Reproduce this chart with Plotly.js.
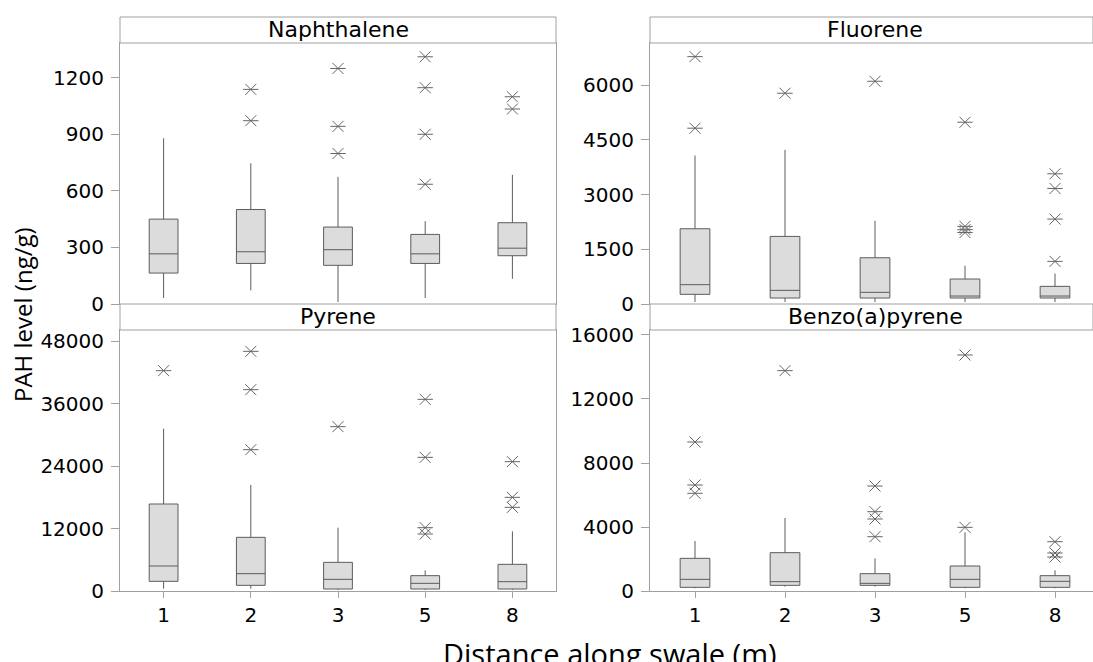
<!DOCTYPE html>
<html>
<head>
<meta charset="utf-8">
<script src="https://cdn.plot.ly/plotly-3.0.1.min.js"></script>
<style>html,body{margin:0;padding:0;background:#fff;}#chart{width:1093px;height:662px;}</style>
</head>
<body>
<div id="chart"></div>
<script>
// ---------- data ----------
const categories = ['1', '2', '3', '5', '8'];
const panelTitles = ['Naphthalene', 'Fluorene', 'Pyrene', 'Benzo(a)pyrene'];
const xAxisTitle = 'Distance along swale (m)';
const yAxisTitle = 'PAH level (ng/g)';

// Naphthalene
const naphLow    = [32, 72, 11, 32, 134];
const naphQ1     = [164, 215, 205, 215, 256];
const naphMedian = [266, 277, 288, 266, 296];
const naphQ3     = [450, 501, 408, 369, 431];
const naphHigh   = [879, 746, 674, 439, 685];
const naphOutliers = [[], [1138, 972], [1249, 942, 798], [1311, 1147, 900, 635], [1099, 1034]];

// Fluorene
const fluoLow    = [55, 55, 55, 55, 55];
const fluoQ1     = [265, 164, 164, 164, 164];
const fluoMedian = [530, 374, 320, 219, 219];
const fluoQ3     = [2064, 1854, 1269, 685, 484];
const fluoHigh   = [4073, 4228, 2283, 1050, 831];
const fluoOutliers = [[6785, 4822], [5781], [6109], [4986, 2130, 2040, 1960], [3571, 3169, 2329, 1169]];

// Pyrene
const pyrLow    = [448, 448, 192, 192, 192];
const pyrQ1     = [1856, 1088, 384, 384, 384];
const pyrMedian = [4800, 3328, 2240, 1472, 1792];
const pyrQ3     = [16704, 10304, 5504, 2944, 5120];
const pyrHigh   = [31168, 20352, 12160, 3968, 11456];
const pyrOutliers = [[42304], [46016, 38656, 27136], [31552], [36800, 25664, 12160, 10944], [24832, 17984, 16064]];

// Benzo(a)pyrene
const bapLow    = [167, 271, 271, 167, 167];
const bapQ1     = [229, 354, 354, 229, 229];
const bapMedian = [729, 583, 479, 729, 604];
const bapQ3     = [2042, 2396, 1083, 1563, 958];
const bapHigh   = [3125, 4563, 2042, 3667, 1292];
const bapOutliers = [[9313, 6625, 6106], [13771], [6560, 4956, 4500, 3394], [14750, 3979], [3081, 2375, 2125]];

// ---------- styling ----------
const W = 1093, H = 662;
const frameColor = '#a0a0a0';
const boxLine = '#5c5c5c';
const boxFill = '#dcdcdc';
const outColor = '#666666';
const tickFont = {family: 'DejaVu Sans, sans-serif', size: 20, color: '#000000'};

const px = v => v / W;
const py = v => (H - v) / H;

const panels = [
  {low: naphLow, q1: naphQ1, med: naphMedian, q3: naphQ3, high: naphHigh, out: naphOutliers,
   xd: [px(120), px(556)], yd: [py(304), py(43)], yr: [0, 1384], dt: 300, xr: [-0.5, 4.5], bottom: false},
  {low: fluoLow, q1: fluoQ1, med: fluoMedian, q3: fluoQ3, high: fluoHigh, out: fluoOutliers,
   xd: [px(650), 1], yd: [py(304), py(43)], yr: [0, 7159], dt: 1500, xr: [-0.5, -0.5 + 443 / 90], bottom: false},
  {low: pyrLow, q1: pyrQ1, med: pyrMedian, q3: pyrQ3, high: pyrHigh, out: pyrOutliers,
   xd: [px(120), px(556)], yd: [py(591), py(330)], yr: [0, 50112], dt: 12000, xr: [-0.5, 4.5], bottom: true},
  {low: bapLow, q1: bapQ1, med: bapMedian, q3: bapQ3, high: bapHigh, out: bapOutliers,
   xd: [px(650), 1], yd: [py(591), py(330)], yr: [0, 16312], dt: 4000, xr: [-0.5, -0.5 + 443 / 90], bottom: true}
];

const traces = [];
const layout = {
  width: W, height: H,
  margin: {l: 0, r: 0, t: 0, b: 0},
  paper_bgcolor: '#ffffff', plot_bgcolor: '#ffffff',
  showlegend: false,
  shapes: [], annotations: []
};

panels.forEach((p, i) => {
  const n = i + 1;
  const xa = n === 1 ? 'x' : 'x' + n;
  const ya = n === 1 ? 'y' : 'y' + n;
  traces.push({
    type: 'box', xaxis: xa, yaxis: ya,
    x: categories, q1: p.q1, median: p.med, q3: p.q3,
    lowerfence: p.low, upperfence: p.high,
    boxpoints: false, width: 0.33, whiskerwidth: 0,
    fillcolor: boxFill, line: {color: boxLine, width: 1},
    hoverinfo: 'skip'
  });
  const ox = [], oy = [];
  p.out.forEach((arr, k) => arr.forEach(v => { ox.push(categories[k]); oy.push(v); }));
  ['x-thin-open', 'line-ew-open'].forEach(sym => {
    traces.push({
      type: 'scatter', mode: 'markers', xaxis: xa, yaxis: ya,
      x: ox, y: oy,
      marker: {symbol: sym, size: 11, color: outColor, line: {color: outColor, width: 1}},
      hoverinfo: 'skip'
    });
  });
  const xkey = n === 1 ? 'xaxis' : 'xaxis' + n;
  const ykey = n === 1 ? 'yaxis' : 'yaxis' + n;
  layout[xkey] = {
    domain: p.xd, anchor: ya, type: 'category', range: p.xr,
    categoryorder: 'array', categoryarray: categories,
    showline: true, mirror: true, linecolor: frameColor, linewidth: 1,
    showgrid: false, zeroline: false,
    ticks: p.bottom ? 'outside' : '', ticklen: 6, tickcolor: frameColor,
    showticklabels: p.bottom,
    tickfont: {family: 'DejaVu Sans, sans-serif', size: 20, color: '#000000'}
  };
  layout[ykey] = {
    domain: p.yd, anchor: xa, range: p.yr,
    tick0: 0, dtick: p.dt, tickformat: 'd',
    showline: true, mirror: true, linecolor: frameColor, linewidth: 1,
    showgrid: false, zeroline: false,
    ticks: 'outside', ticklen: 8, tickcolor: frameColor,
    tickfont: tickFont, ticklabelstandoff: 3
  };
  const stripTop = p.yd[1] + 26 / H;
  layout.shapes.push({
    type: 'rect', xref: 'paper', yref: 'paper',
    x0: p.xd[0], x1: p.xd[1], y0: p.yd[1], y1: stripTop,
    line: {color: frameColor, width: 1}, fillcolor: '#ffffff'
  });
  const cx = (i % 2 === 0) ? px(338) : px(875);
  layout.annotations.push({
    xref: 'paper', yref: 'paper', x: cx, y: (p.yd[1] + stripTop) / 2,
    xanchor: 'center', yanchor: 'middle', showarrow: false,
    text: panelTitles[i],
    font: {family: 'DejaVu Sans, sans-serif', size: 22, color: '#000'}
  });
});

layout.annotations.push({
  xref: 'paper', yref: 'paper', x: px(610), y: py(653),
  xanchor: 'center', yanchor: 'middle', showarrow: false,
  text: xAxisTitle, font: {family: 'Open Sans, sans-serif', size: 29, color: '#000'}
});
layout.annotations.push({
  xref: 'paper', yref: 'paper', x: px(22), y: py(315),
  xanchor: 'center', yanchor: 'middle', showarrow: false, textangle: -90,
  text: yAxisTitle, font: {family: 'Open Sans, sans-serif', size: 24, color: '#000'}
});

Plotly.newPlot('chart', traces, layout, {staticPlot: true, displayModeBar: false});
</script>
</body>
</html>
